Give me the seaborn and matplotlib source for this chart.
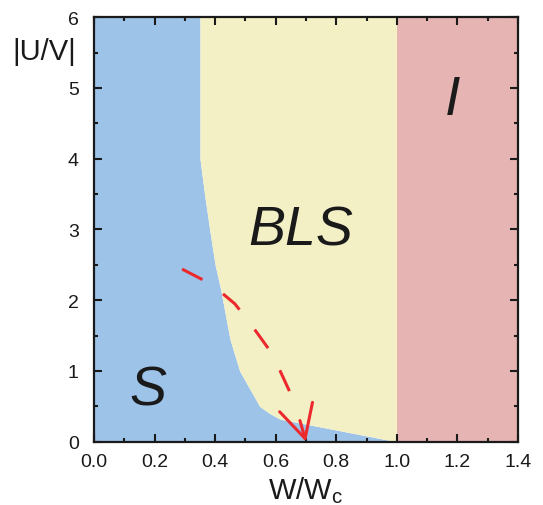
import matplotlib
matplotlib.use("Agg")
import matplotlib.pyplot as plt
import seaborn as sns
import numpy as np
from matplotlib.ticker import MultipleLocator, FormatStrFormatter

# phase boundary between S and BLS (W/Wc, |U/V|)
bound_x = [0.35, 0.35, 0.365, 0.382, 0.40, 0.418, 0.449, 0.481, 0.547, 0.58, 0.614, 1.0]
bound_y = [6.0, 4.0, 3.5, 3.0, 2.5, 2.16, 1.45, 1.0, 0.5, 0.4, 0.32, 0.0]
bls_edge = 1.0   # BLS / I boundary
x_max = 1.4

# red dashed path
path_x = [0.291, 0.359, 0.385, 0.412, 0.465, 0.491, 0.52, 0.577, 0.597, 0.617, 0.647]
path_y = [2.44, 2.29, 2.22, 2.14, 1.95, 1.81, 1.65, 1.31, 1.16, 0.98, 0.70]
arrow_from = (0.68, 0.30)
arrow_to = (0.70, 0.0)

labels = ["S", "BLS", "I"]
label_x = [0.179, 0.684, 1.185]
label_y = [0.73, 2.98, 4.83]

x_ticks = [0.0, 0.2, 0.4, 0.6, 0.8, 1.0, 1.2, 1.4]
y_ticks = [0, 1, 2, 3, 4, 5, 6]

sns.set_theme(style="ticks")
plt.rcParams['font.family'] = ['Liberation Sans', 'DejaVu Sans']

fig, ax = plt.subplots(figsize=(5.43, 5.06), dpi=100)
fig.subplots_adjust(left=0.173, right=0.954, top=0.964, bottom=0.125)
ax.set_axisbelow(False)

blue = "#9dc3e8"
yellow = "#f3f0c5"
pink = "#e6b4b3"

ax.fill_betweenx(bound_y, 0, bound_x, color=blue, lw=0)
ax.fill_betweenx(bound_y, bound_x, bls_edge, color=yellow, lw=0)
ax.axvspan(bls_edge, x_max, color=pink, lw=0)

sns.lineplot(x=path_x, y=path_y, sort=False, ax=ax, color="#ec2a2e",
             lw=2.2, linestyle=(0, (7.5, 8.2)))
ax.annotate("", xy=arrow_to, xytext=arrow_from,
            arrowprops=dict(arrowstyle="->,head_length=23.6,head_width=12.3",
                            mutation_scale=1, color="#ec2a2e", lw=2.2,
                            shrinkA=0, shrinkB=0))

for t, x, y in zip(labels, label_x, label_y):
    ax.text(x, y, t, fontsize=40, style="italic", ha="center", va="center",
            color="#1a1a1a")

ax.set_xlim(0, x_max)
ax.set_ylim(0, 6)
ax.set_xticks(x_ticks)
ax.set_yticks(y_ticks)
ax.xaxis.set_major_formatter(FormatStrFormatter("%.1f"))
ax.xaxis.set_minor_locator(MultipleLocator(0.1))
ax.yaxis.set_minor_locator(MultipleLocator(0.5))
ax.tick_params(which="both", direction="in", top=True, right=True,
               width=1.5, color="#1a1a1a", labelsize=14,
               labelcolor="#1a1a1a")
ax.tick_params(axis="x", which="both", pad=8)
ax.tick_params(axis="y", which="both", pad=11)
ax.tick_params(which="major", length=6)
ax.tick_params(which="minor", length=3)
for s in ax.spines.values():
    s.set_linewidth(1.6)
    s.set_color("#1a1a1a")

ax.set_xlabel("W/W$_\\mathregular{c}$", fontsize=21, labelpad=3, color="#1a1a1a")
ax.set_ylabel("|U/V|", fontsize=21, rotation=0, color="#1a1a1a",
              ha="center", va="center")
ax.yaxis.set_label_coords(-0.118, 0.92)

fig.savefig("out.png", dpi=100)
